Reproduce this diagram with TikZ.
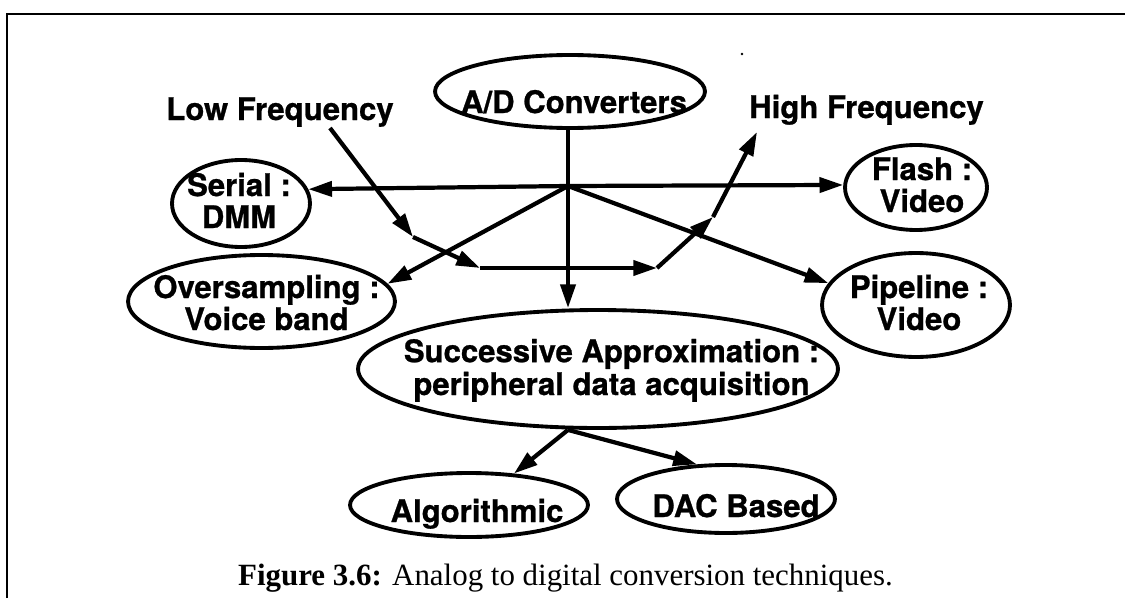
\documentclass[tikz,border=0pt]{standalone}
\usepackage{fontspec}
\setmainfont{Liberation Serif}
\newfontfamily\hv{TeX Gyre Heros}[BoldFeatures={FakeBold=0.8}]
\usetikzlibrary{arrows.meta,shapes.geometric}
\begin{document}
\begin{tikzpicture}[x=0.02cm,y=-0.02cm,
  ell/.style={draw, ellipse, line width=2.2pt, inner sep=0pt},
  lbl/.style={font=\hv\bfseries\fontsize{17.7}{18.2}\selectfont, align=center, anchor=base, inner sep=0pt},
  arr/.style={line width=2.4pt, -{Triangle[length=13.5pt,width=8.5pt]}},
  frame/.style={line width=1.4pt}]
\useasboundingbox (0,0) rectangle (1125,598);
% frame
\draw[frame] (7,598) -- (7,14) -- (1125,14);
\fill (742,54) circle[radius=0.8pt];
% ellipses
\node[ell, minimum width=5.4cm,  minimum height=1.46cm] (ad)     at (570,91.5) {};
\node[ell, minimum width=2.76cm, minimum height=1.74cm] (serial) at (241,203.5) {};
\node[ell, minimum width=2.84cm, minimum height=1.70cm] (flash)  at (916,187.5) {};
\node[ell, minimum width=5.34cm, minimum height=1.86cm] (over)   at (261.5,301.5) {};
\node[ell, minimum width=3.76cm, minimum height=2.08cm] (pipe)   at (916,305) {};
\node[ell, minimum width=9.6cm,  minimum height=2.36cm] (succ)   at (598,369) {};
\node[ell, minimum width=4.76cm, minimum height=1.28cm] (algo)   at (469,505) {};
\node[ell, minimum width=4.36cm, minimum height=1.36cm] (dac)    at (726,499) {};
% labels (base = baseline of the last line)
\node[lbl] (adt)     at (574,113)   {A/D Converters};
\node[lbl] (lf)      at (280,120)   {Low Frequency};
\node[lbl] (hf)      at (866.5,118) {High Frequency};
\node[lbl] (serialt) at (239,228)   {Serial :\\DMM};
\node[lbl] (flasht)  at (922,212)   {Flash :\\Video};
\node[lbl] (overt)   at (266.5,330) {Oversampling :\\Voice band};
\node[lbl] (pipet)   at (919,330)   {Pipeline :\\Video};
\node[lbl, font=\hv\bfseries\fontsize{17.7}{18.7}\selectfont] (succt) at (611.5,395) {Successive Approximation :\\peripheral data acquisition};
\node[lbl] (algot)   at (477,522)   {Algorithmic};
\node[lbl] (dact)    at (736,517)   {DAC Based};
% caption
\node[anchor=base, inner sep=0pt, font=\fontsize{17.6}{20}\selectfont] (cap) at (565.5,585)
  {\textbf{Figure 3.6:} Analog to digital conversion techniques.};
% hub and connectors
\coordinate (hub) at (568,186);
\draw[arr] (ad.south -| hub) -- (succ.north -| hub);
\draw[arr] (hub) -- (serial.12);
\draw[arr] (hub) -- (flash.178);
\draw[arr] (hub) -- (over.8);
\draw[arr] (hub) -- (pipe.166);
% low to high frequency path
\coordinate (lf0) at (330,128);
\coordinate (b1) at (413,237);
\coordinate (b2) at (480,268);
\coordinate (b3) at (657,268);
\coordinate (b4) at (713,217);
\coordinate (hf0) at (757,132);
\draw[arr] (lf0) -- (b1);
\draw[arr] (b1) -- (b2);
\draw[arr] (b2) -- (b3);
\draw[arr] (b3) -- (b4);
\draw[arr] (b4) -- (hf0);
% bottom fork
\coordinate (sb) at (succ.south -| hub);
\draw[arr] (sb) -- (algo.35);
\draw[arr] (sb) -- (dac.130);
\end{tikzpicture}
\end{document}
